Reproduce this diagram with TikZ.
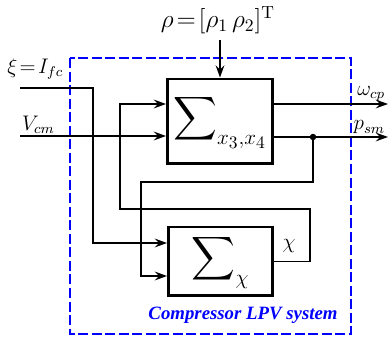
\documentclass[tikz,border=0pt]{standalone}
\usepackage{amsmath, amssymb}
\usepackage{fontspec}
\newfontfamily\capfont{Liberation Serif}
\usepackage{tikz}
\usetikzlibrary{arrows.meta}

\tikzset{
  sysblock/.style={draw, line width=1.7pt, minimum width=2.08cm, fill=white},
  sig/.style={line width=1.1pt},
  lpvframe/.style={blue, line width=1.1pt, dash pattern=on 5.7pt off 2pt},
}

\begin{document}
\begin{tikzpicture}[>={Stealth[length=7pt,width=5pt,inset=2.5pt]}, x=0.02cm, y=-0.02cm]
  \useasboundingbox (0,0) rectangle (390,341);
  \draw[lpvframe] (70,58) rectangle (351,334);
  % the two subsystems
  \node[sysblock, minimum height=1.7cm] (up) at (220,121.5)
    {\LARGE$\displaystyle\sum\nolimits_{x_3,x_4}$};
  \node[sysblock, minimum height=1.38cm] (lo) at (220.5,261.5)
    {\LARGE$\displaystyle\sum\nolimits_{\chi}$};
  % scheduling parameter
  \node[font=\Large] (rho) at (218,20) {$\rho\!=\![\rho_1\,\rho_2]^{\mathrm{T}}$};
  \draw[sig,->] (rho.south -| up.north) -- (up.north);
  % inputs
  \coordinate (xi0) at (20,88);
  \coordinate (xi1) at (93,88);
  \coordinate (xi2) at (93,243);
  \draw[sig,->] (xi0) -- (xi1) -- (xi2) -- (lo.west |- xi2);
  \node[font=\large, anchor=south west, inner sep=0pt] (xilab) at (7,80) {$\xi\!=\!I_{fc}$};
  \coordinate (vcm) at (20,136);
  \draw[sig,->] (vcm) -- (up.west |- vcm);
  \node[font=\large, anchor=south west, inner sep=1pt] (vlab) at (vcm) {$V_{cm}$};
  % feedback of chi
  \coordinate (chiA) at (310,261.5);
  \coordinate (chiB) at (310,209);
  \coordinate (chiC) at (120,209);
  \coordinate (chiD) at (120,104);
  \draw[sig,->] (lo.east) -- (chiA) -- (chiB) -- (chiC) -- (chiD) -- (up.west |- chiD);
  \node[font=\large] (chilab) at (289,246) {$\chi$};
  % outputs
  \coordinate (wout) at (388,104);
  \coordinate (pout) at (388,137);
  \draw[sig,->] (up.east |- wout) -- (wout);
  \draw[sig,->] (up.east |- pout) -- (pout);
  \node[font=\large, anchor=south east, inner sep=1.5pt] (wlab) at (wout) {$\omega_{cp}$};
  \node[font=\large, anchor=south east, inner sep=1.5pt] (plab) at (pout) {$p_{sm}$};
  \node[circle, fill, inner sep=1.3pt] (split) at (313,137) {};
  \coordinate (psA) at (313,182);
  \coordinate (psB) at (141,182);
  \coordinate (psC) at (141,276);
  \draw[sig,->] (split.center) -- (psA) -- (psB) -- (psC) -- (lo.west |- psC);
  \node[blue, font=\capfont\fontsize{10.7}{13}\selectfont\bfseries\itshape] (cap) at (243,315) {Compressor LPV system};
\end{tikzpicture}
\end{document}
